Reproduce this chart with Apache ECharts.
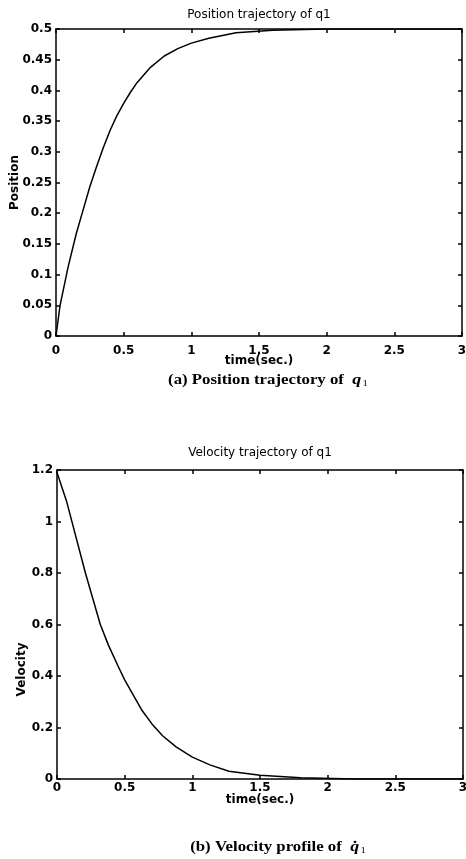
<!DOCTYPE html>
<html>
<head>
<meta charset="utf-8">
<script src="https://cdn.jsdelivr.net/npm/echarts@6/dist/echarts.min.js"></script>
<style>
html,body{margin:0;padding:0;background:#fff;}
#main{width:466px;height:859px;}
</style>
</head>
<body>
<div id="main"></div>
<script>
// position trajectory of q1
var posTime  = [0, 0.03, 0.09, 0.15, 0.2, 0.25, 0.3, 0.35, 0.4, 0.45, 0.5, 0.55, 0.6, 0.7, 0.8, 0.9, 1.0, 1.13, 1.33, 1.6, 2.0, 2.5, 3.0];
var posValue = [0, 0.05, 0.113, 0.167, 0.205, 0.243, 0.276, 0.307, 0.335, 0.359, 0.379, 0.397, 0.413, 0.438, 0.456, 0.468, 0.477, 0.485, 0.494, 0.498, 0.5, 0.5, 0.5];
// velocity of q1
var velTime  = [0, 0.07, 0.21, 0.32, 0.38, 0.45, 0.5, 0.57, 0.63, 0.7, 0.78, 0.88, 1.0, 1.13, 1.27, 1.5, 1.8, 2.2, 3.0];
var velValue = [1.19, 1.08, 0.8, 0.6, 0.52, 0.44, 0.385, 0.32, 0.265, 0.215, 0.168, 0.125, 0.085, 0.055, 0.03, 0.015, 0.005, 0, 0];

var pairs = function (xs, ys) {
	var out = [];
	xs.forEach(function (x, i) { out.push([x, ys[i]]); });
	return out;
};

var chart = echarts.init(document.getElementById('main'));
var tickFont = {color: '#000', fontFamily: 'DejaVu Sans', fontWeight: 'bold', fontSize: 12};
var lineStyle = {color: '#000', width: 1.5};

var xAxisFor = function (gridIndex, labelMargin, nameGap, showName, pos) {
	return {
		type: 'value', gridIndex: gridIndex, position: pos,
		min: 0, max: 3, interval: 0.5,
		name: showName ? 'time(sec.)' : '', nameLocation: 'middle', nameGap: nameGap,
		nameMoveOverlap: false,
		nameTextStyle: tickFont,
		axisLine: {show: true, onZero: false, lineStyle: lineStyle},
		axisTick: {show: true, inside: true, length: 4, lineStyle: lineStyle},
		axisLabel: Object.assign({show: showName, margin: labelMargin}, tickFont),
		splitLine: {show: false}
	};
};
var yAxisFor = function (gridIndex, max, interval, name, nameGap, namePad, main) {
	return {
		type: 'value', gridIndex: gridIndex, position: main ? 'left' : 'right',
		min: 0, max: max, interval: interval,
		name: main ? name : '', nameLocation: 'middle', nameGap: nameGap,
		nameMoveOverlap: false,
		nameTextStyle: Object.assign({padding: namePad}, tickFont),
		axisLine: {show: true, onZero: false, lineStyle: lineStyle},
		axisTick: {show: true, inside: true, length: 4, lineStyle: lineStyle},
		axisLabel: Object.assign({show: main, margin: 4}, tickFont),
		splitLine: {show: false}
	};
};

var caption = function (x, y, text) {
	return {type: 'text', x: x, y: y, scaleX: 1.2, style: {
		text: text,
		fontFamily: 'Liberation Serif', fontWeight: 'bold', fontSize: 14, fill: '#000', align: 'center', verticalAlign: 'middle',
		rich: {
			q: {fontFamily: 'Liberation Serif', fontStyle: 'italic', fontWeight: 'bold', fontSize: 15, fill: '#000'},
			s: {fontFamily: 'Liberation Serif', fontSize: 9, fill: '#000', padding: [7, 0, 0, 1]}
		}
	}};
};

var option = {
	backgroundColor: '#fff',
	animation: false,
	grid: [
		{left: 56, top: 29, width: 406, height: 307, outerBoundsMode: 'none', containLabel: false},
		{left: 57, top: 470, width: 406, height: 309, outerBoundsMode: 'none', containLabel: false}
	],
	xAxis: [
		xAxisFor(0, 9, 19, true, 'bottom'),
		xAxisFor(0, 0, 0, false, 'top'),
		xAxisFor(1, 3, 15, true, 'bottom'),
		xAxisFor(1, 0, 0, false, 'top')
	],
	yAxis: [
		yAxisFor(0, 0.5, 0.05, 'Position', 35, [0, 0, 0, 0], true),
		yAxisFor(0, 0.5, 0.05, '', 0, 0, false),
		yAxisFor(1, 1.2, 0.2, 'Velocity', 29, [0, 90, 0, 0], true),
		yAxisFor(1, 1.2, 0.2, '', 0, 0, false)
	],
	graphic: [
		{type: 'text', x: 259, y: 15, style: {text: 'Position trajectory of q1', fontFamily: 'DejaVu Sans', fontSize: 12, fill: '#000', align: 'center', verticalAlign: 'middle'}},
		{type: 'text', x: 260, y: 453, style: {text: 'Velocity trajectory of q1', fontFamily: 'DejaVu Sans', fontSize: 12, fill: '#000', align: 'center', verticalAlign: 'middle'}},
		caption(268, 380, '(a) Position trajectory of  {q|q}{s|1}'),
		caption(278, 847, '(b) Velocity profile of  {q|q\u0307}{s|1}')
	],
	series: [
		{type: 'line', xAxisIndex: 0, yAxisIndex: 0, data: pairs(posTime, posValue), showSymbol: false, lineStyle: {color: '#000', width: 1.5}},
		{type: 'line', xAxisIndex: 2, yAxisIndex: 2, data: pairs(velTime, velValue), showSymbol: false, lineStyle: {color: '#000', width: 1.5}}
	]
};
chart.setOption(option);
</script>
</body>
</html>
